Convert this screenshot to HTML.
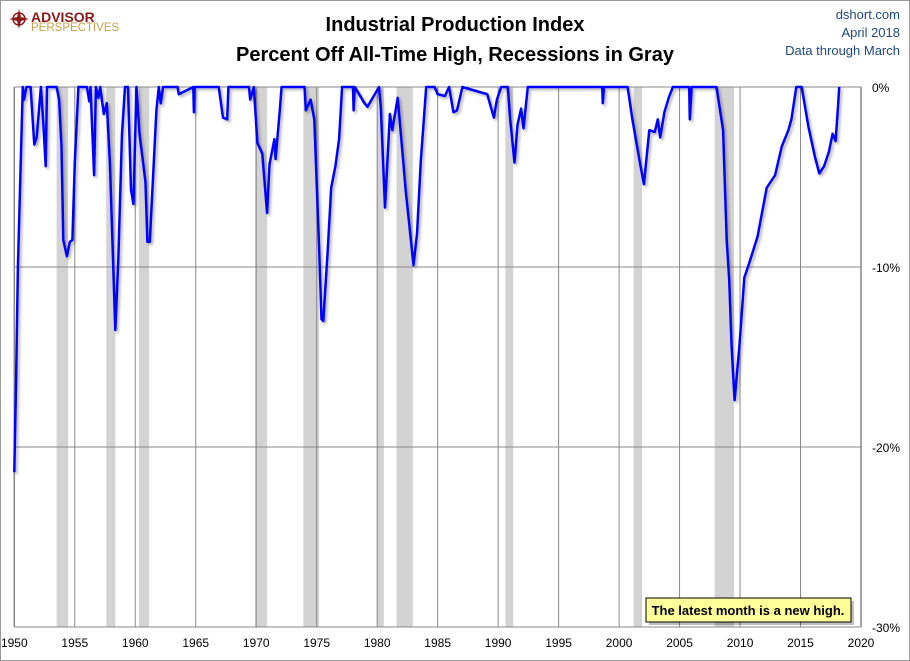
<!DOCTYPE html>
<html><head><meta charset="utf-8"><style>
body{margin:0;background:#fff;}
#wrap{position:relative;width:910px;height:661px;overflow:hidden;font-family:"Liberation Sans",sans-serif;}
</style></head><body>
<div id="wrap">
<svg id="chart" width="910" height="661" xmlns="http://www.w3.org/2000/svg">
<defs><filter id="sh" x="-5%" y="-5%" width="110%" height="110%"><feDropShadow dx="2" dy="2" stdDeviation="1.2" flood-color="#000" flood-opacity="0.3"/></filter></defs>
<rect x="0.5" y="0.5" width="909" height="660" fill="#fff" stroke="#999"/>
<g>
<circle cx="19" cy="19" r="6" fill="none" stroke="#8b1a1a" stroke-width="1.5"/>
<path d="M19 9 L21 17 L29 19 L21 21 L19 29 L17 21 L9 19 L17 17 Z" fill="#8b1a1a"/>
<text x="31" y="22" font-size="14" font-weight="bold" fill="#8b1a1a">ADVISOR</text>
<text x="31" y="31" font-size="11.5" fill="#c6a14a">PERSPECTIVES</text>
</g>
<text x="455" y="31" text-anchor="middle" font-size="20" font-weight="bold" fill="#000">Industrial Production Index</text>
<text x="455" y="61" text-anchor="middle" font-size="20" font-weight="bold" fill="#000">Percent Off All-Time High, Recessions in Gray</text>
<text x="900" y="19" text-anchor="end" font-size="13" fill="#1f497d">dshort.com</text>
<text x="900" y="37" text-anchor="end" font-size="13" fill="#1f497d">April 2018</text>
<text x="900" y="55" text-anchor="end" font-size="13" fill="#1f497d">Data through March</text>
<g id="rec"></g><g id="grid"></g><g id="axes"></g><g id="series"></g>
<g>
<rect x="649" y="601" width="205" height="24" fill="#000" opacity="0.25"/>
<rect x="646" y="598" width="205" height="24" fill="#ffff99" stroke="#000" stroke-width="1"/>
<text x="748" y="615" text-anchor="middle" font-size="13" font-weight="bold" fill="#000">The latest month is a new high.</text>
</g>
</svg>
</div>
<script>
const recStart=[1953.5,1957.6,1960.3,1969.9,1973.9,1980.0,1981.6,1990.6,2001.2,2007.9];
const recEnd=[1954.45,1958.35,1961.15,1970.9,1975.2,1980.55,1982.95,1991.25,2001.9,2009.5];
const xTicks=[1950,1955,1960,1965,1970,1975,1980,1985,1990,1995,2000,2005,2010,2015,2020];
const yTicks=[0,-10,-20,-30];
const yTickLabels=["0%","-10%","-20%","-30%"];
const years=[1950.0,1950.15,1950.3,1950.7,1950.8,1951.0,1951.35,1951.65,1951.85,1952.2,1952.4,1952.6,1952.7,1953.5,1953.7,1953.9,1954.05,1954.15,1954.35,1954.6,1954.8,1955.0,1955.3,1956.0,1956.2,1956.3,1956.6,1956.75,1956.95,1957.1,1957.4,1957.65,1957.9,1958.35,1958.6,1958.9,1959.15,1959.4,1959.65,1959.85,1960.1,1960.35,1960.65,1960.85,1961.0,1961.2,1961.75,1961.95,1962.1,1962.3,1963.5,1963.6,1964.8,1964.85,1964.9,1966.9,1967.25,1967.6,1967.7,1969.4,1969.5,1969.8,1970.1,1970.5,1970.9,1971.1,1971.5,1971.6,1971.95,1972.1,1974.0,1974.1,1974.5,1974.8,1975.2,1975.4,1975.55,1975.9,1976.2,1976.55,1976.85,1977.1,1978.0,1978.05,1978.15,1978.95,1979.2,1980.15,1980.3,1980.65,1981.05,1981.25,1981.7,1982.15,1982.35,1982.65,1983.0,1983.3,1983.6,1984.05,1984.75,1985.0,1985.6,1985.95,1986.3,1986.6,1987.05,1989.1,1989.65,1989.9,1990.25,1990.8,1991.0,1991.35,1991.6,1991.9,1992.1,1992.45,1998.6,1998.65,1998.75,2000.7,2001.1,2001.7,2002.05,2002.5,2002.95,2003.2,2003.4,2003.75,2004.1,2004.45,2005.8,2005.85,2006.0,2008.05,2008.6,2008.9,2009.1,2009.3,2009.55,2009.95,2010.35,2010.85,2011.45,2012.2,2012.9,2013.45,2014.0,2014.25,2014.65,2015.1,2015.65,2016.2,2016.55,2016.95,2017.35,2017.65,2017.9,2018.1,2018.2];
const pct=[-21.4,-16.3,-10,0,-0.7,0,0,-3.2,-2.8,0,-2,-4.4,0,0,-0.7,-3.3,-8.5,-8.8,-9.4,-8.6,-8.5,-4.2,0,0,-0.8,0,-4.9,0,-0.6,0,-1.5,-0.9,-4.2,-13.5,-9.6,-2.6,0,0,-5.7,-6.5,0,-2.6,-4.2,-5.3,-8.6,-8.6,-1.3,0,-0.9,0,0,-0.4,0,-1.4,0,0,-1.7,-1.8,0,0,-0.7,0,-3.1,-3.7,-7.0,-4.3,-2.9,-4.0,-1.3,0,0,-1.3,-0.7,-1.8,-8.9,-12.9,-13.0,-9.2,-5.6,-4.4,-2.9,0,0,-1.3,0,-0.9,-1.1,0,-1.1,-6.7,-1.5,-2.4,-0.6,-4.1,-5.7,-7.6,-9.9,-8.1,-4.2,0,0,-0.4,-0.5,0,-1.4,-1.3,0,-0.4,-1.7,-0.7,0,0,-1.8,-4.2,-2.1,-1.2,-2.3,0,0,-0.9,0,0,-1.8,-4.1,-5.4,-2.4,-2.5,-1.8,-2.8,-1.4,-0.6,0,0,-1.8,0,0,-2.4,-8.5,-10.7,-14.4,-17.4,-14.4,-10.6,-9.6,-8.3,-5.6,-4.9,-3.3,-2.4,-1.8,0,0,-2.2,-3.9,-4.8,-4.4,-3.6,-2.6,-3.0,-1.1,0];
const NS="http://www.w3.org/2000/svg";
const X0=14.3,X1=861,Y0=87,Y1=627;
function xs(y){return X0+(y-1950)/(2020-1950)*(X1-X0);}
function ys(v){return Y0+(0-v)/30*(Y1-Y0);}
function mk(t,a,p){const e=document.createElementNS(NS,t);for(const k in a)e.setAttribute(k,a[k]);p.appendChild(e);return e;}
const rec=document.getElementById('rec');
recStart.forEach((s,i)=>{const r=mk('rect',{x:xs(s),y:Y0,width:xs(recEnd[i])-xs(s),height:Y1-Y0,fill:'#d3d3d3'},rec);

});
const grid=document.getElementById('grid');
xTicks.forEach(t=>{const l=mk('line',{x1:xs(t),x2:xs(t),y1:Y0,y2:Y1,stroke:'#888','stroke-width':1},grid);


const tx=mk('text',{x:xs(t),y:647,'text-anchor':'middle','font-size':12,fill:'#000'},grid);tx.textContent=t;

});
yTicks.forEach((t,i)=>{const l=mk('line',{x1:X0,x2:X1,y1:ys(t),y2:ys(t),stroke:'#888','stroke-width':1},grid);


const tx=mk('text',{x:872,y:ys(t)+5,'font-size':12,fill:'#000'},grid);tx.textContent=yTickLabels[i];

});
const ax=document.getElementById('axes');
const a1=mk('line',{x1:X0,x2:X0,y1:Y0,y2:Y1,stroke:'#888','stroke-width':1.5},ax);


const a2=mk('line',{x1:X1,x2:X1,y1:Y0,y2:Y1,stroke:'#888','stroke-width':1.5},ax);


const d=years.map((y,i)=>(i?'L':'M')+xs(y).toFixed(1)+' '+ys(pct[i]).toFixed(1)).join(' ');
const p=mk('path',{d:d,fill:'none',stroke:'#0000ff','stroke-width':2.5,'stroke-linejoin':'round',filter:'url(#sh)'},document.getElementById('series'));


</script>
</body></html>
